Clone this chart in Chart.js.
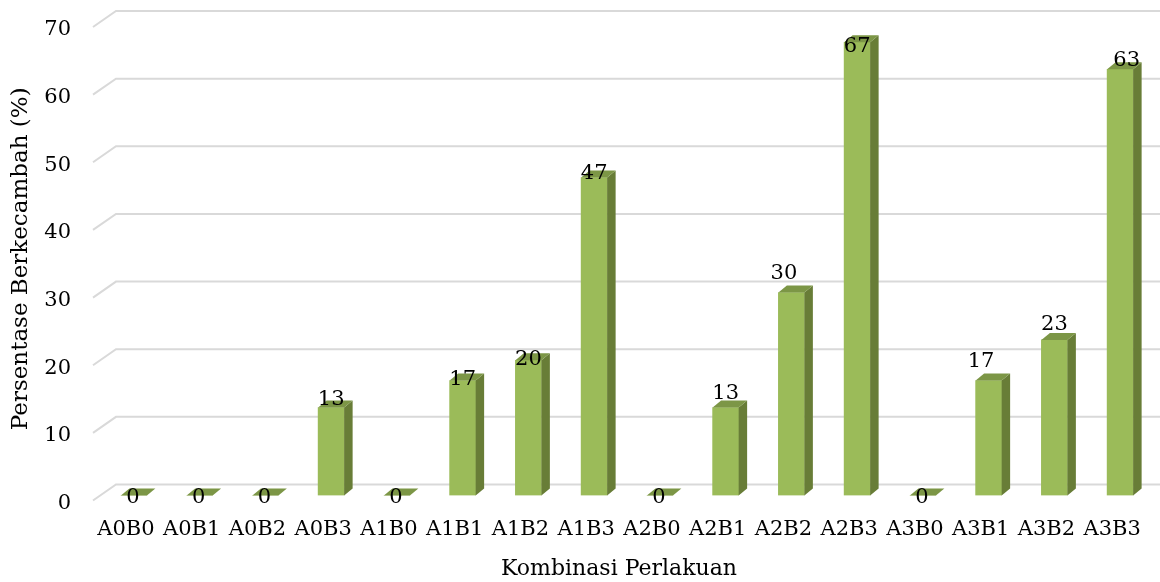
<!DOCTYPE html>
<html>
<head>
<meta charset="utf-8">
<title>Persentase Berkecambah</title>
<script src="https://cdn.jsdelivr.net/npm/chart.js@4.4.1/dist/chart.umd.min.js"></script>
<style>
  html, body { margin: 0; padding: 0; background: #ffffff; }
  #wrap { width: 1160px; height: 582px; position: relative; }
</style>
</head>
<body>
<div id="wrap"><canvas id="chart"></canvas></div>
<script>
// Treatment combinations and germination percentage
const categories = ['A0B0', 'A0B1', 'A0B2', 'A0B3', 'A1B0', 'A1B1', 'A1B2', 'A1B3',
                    'A2B0', 'A2B1', 'A2B2', 'A2B3', 'A3B0', 'A3B1', 'A3B2', 'A3B3'];
const germination = [0, 0, 0, 13, 0, 17, 20, 47, 0, 13, 30, 67, 0, 17, 23, 63];
const yTicks = [0, 10, 20, 30, 40, 50, 60, 70];
const yTitle = 'Persentase Berkecambah (%)';
const xTitle = 'Kombinasi Perlakuan';

// Look of the 3D columns
const FONT = '"DejaVu Serif", "Liberation Serif", serif';
const FRONT = '#9bbb59';
const SIDE = '#687d37';
const TOP = '#7c9646';
const BAR_SHIFT = 8;          // columns sit slightly right of the category centre
const DEPTH = { dx: 8.5, dy: 7 };
const GRID = '#d9d9d9';
const WALL = { dx: 23, up: 11, down: 5 };

// Per-label nudges (x offset, baseline offset from column top)
const labelNudge = [
  [-1, 7.5], [-1, 7.5], [-1, 7.5], [0, -2.6], [-1, 7.5], [0, 4.5], [0, 4.8], [0, 1.4],
  [-1, 7.5], [0, -8.6], [-7.5, -13.6], [0, 9.7], [-1, 7.5], [-7.6, -13.5], [0, -9.9], [6.5, -3.4]
];

const wallGrid = {
  id: 'wallGrid',
  beforeDatasetsDraw(chart) {
    const { ctx, chartArea, scales: { y } } = chart;
    ctx.save();
    ctx.strokeStyle = GRID;
    ctx.lineWidth = 2;
    yTicks.forEach(v => {
      const py = y.getPixelForValue(v);
      ctx.beginPath();
      ctx.moveTo(chartArea.left, py + WALL.down);
      ctx.lineTo(chartArea.left + WALL.dx, py - WALL.up);
      ctx.lineTo(chart.width, py - WALL.up);
      ctx.stroke();
    });
    ctx.restore();
  }
};

const columns3d = {
  id: 'columns3d',
  beforeDatasetDraw(chart) {
    chart.ctx.save();
    chart.ctx.translate(BAR_SHIFT, 0);
  },
  afterDatasetDraw(chart, args) {
    const ctx = chart.ctx;
    args.meta.data.forEach(bar => {
      const { x, y, base, width } = bar.getProps(['x', 'y', 'base', 'width'], true);
      const l = x - width / 2, r = x + width / 2;
      // right side face
      ctx.fillStyle = SIDE;
      ctx.beginPath();
      ctx.moveTo(r, y);
      ctx.lineTo(r + DEPTH.dx, y - DEPTH.dy);
      ctx.lineTo(r + DEPTH.dx, base - DEPTH.dy);
      ctx.lineTo(r, base);
      ctx.closePath();
      ctx.fill();
      // top face
      ctx.fillStyle = TOP;
      ctx.beginPath();
      ctx.moveTo(l, y);
      ctx.lineTo(r, y);
      ctx.lineTo(r + DEPTH.dx, y - DEPTH.dy);
      ctx.lineTo(l + DEPTH.dx, y - DEPTH.dy);
      ctx.closePath();
      ctx.fill();
    });
    ctx.restore();
  }
};

const valueLabels = {
  id: 'valueLabels',
  afterDatasetsDraw(chart) {
    const ctx = chart.ctx;
    const meta = chart.getDatasetMeta(0);
    ctx.save();
    ctx.font = '21px ' + FONT;
    ctx.fillStyle = '#000000';
    ctx.textAlign = 'center';
    ctx.textBaseline = 'alphabetic';
    meta.data.forEach((bar, i) => {
      const { x, y } = bar.getProps(['x', 'y'], true);
      const n = labelNudge[i];
      ctx.fillText(String(germination[i]), x + BAR_SHIFT + n[0], y + n[1]);
    });
    ctx.restore();
  }
};

new Chart(document.getElementById('chart'), {
  type: 'bar',
  data: {
    labels: categories,
    datasets: [{
      data: germination,
      backgroundColor: FRONT,
      borderWidth: 0,
      barThickness: 26
    }]
  },
  options: {
    responsive: true,
    maintainAspectRatio: false,
    animation: false,
    events: [],
    layout: { padding: { top: 22, right: 15, bottom: 0, left: 0 } },
    plugins: { legend: { display: false }, tooltip: { enabled: false } },
    scales: {
      x: {
        grid: { display: false, drawTicks: false },
        border: { display: false },
        ticks: {
          color: '#000000',
          font: { family: FONT, size: 21 },
          padding: 21,
          maxRotation: 0,
          autoSkip: false
        },
        title: {
          display: true,
          text: xTitle,
          color: '#000000',
          font: { family: FONT, size: 22, lineHeight: 1 },
          padding: { top: 0, bottom: 2 }
        },
        afterFit(s) { s.height = 86.5; s.paddingLeft = 0; s.paddingRight = 0; }
      },
      y: {
        min: 0,
        max: 70,
        grid: { display: false, drawTicks: false },
        border: { display: false },
        afterBuildTicks(s) { s.ticks = yTicks.map(v => ({ value: v })); },
        ticks: {
          color: '#000000',
          font: { family: FONT, size: 21 },
          padding: 22,
          labelOffset: 8
        },
        title: {
          display: true,
          text: yTitle,
          color: '#000000',
          font: { family: FONT, size: 23, lineHeight: 1 },
          padding: { top: 10, bottom: 0 }
        },
        afterFit(s) { s.width = 93; s.paddingTop = 0; s.paddingBottom = 0; }
      }
    }
  },
  plugins: [wallGrid, columns3d, valueLabels]
});
</script>
</body>
</html>
